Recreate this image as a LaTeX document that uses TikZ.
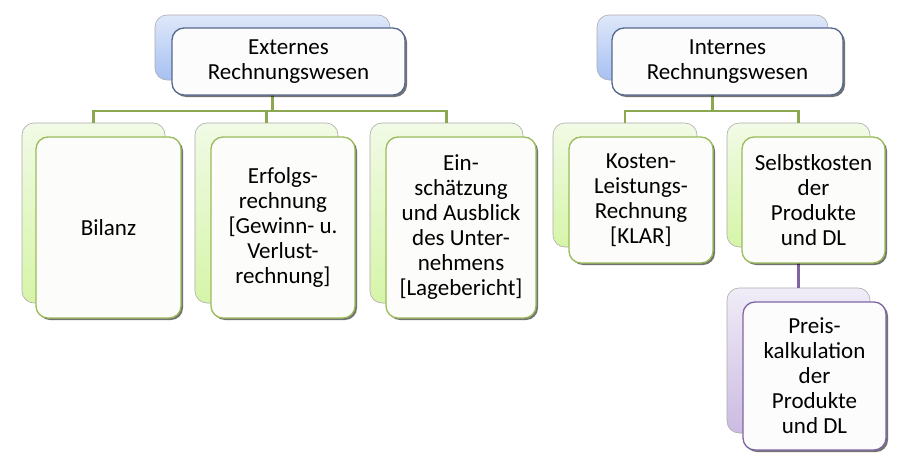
\documentclass[tikz,border=0pt]{standalone}
\usepackage{fontspec}
\setmainfont{Carlito}
\usetikzlibrary{shadows,calc}
\definecolor{gTop}{HTML}{F1FAE6}
\definecolor{gBot}{HTML}{D6F5A8}
\definecolor{bTop}{HTML}{DFE8FA}
\definecolor{bBot}{HTML}{A6C0F2}
\definecolor{pTop}{HTML}{F0ECF7}
\definecolor{pBot}{HTML}{CBBBE2}
\definecolor{gLine}{HTML}{9BBB59}
\definecolor{gDark}{HTML}{4F6228}
\definecolor{bBorder}{HTML}{55698C}
\definecolor{pLine}{HTML}{8064A2}
\begin{document}
\begin{tikzpicture}[x=1pt,y=-1pt,
  box/.style={rectangle, rounded corners=12pt, inner sep=0pt},
  backG/.style={box, draw=gray!65, line width=0.6pt, top color=gTop, bottom color=gBot},
  backB/.style={box, draw=gray!65, line width=0.6pt, top color=bTop, bottom color=bBot},
  backP/.style={box, draw=gray!65, line width=0.6pt, top color=pTop, bottom color=pBot},
  front/.style={box, line width=1.3pt, align=center, font=\fontsize{23}{25}\selectfont,
     drop shadow={shadow xshift=2pt, shadow yshift=-2pt, fill=black, opacity=0.55}},
  frontG/.style={front, draw=gLine, fill=white!97!gLine},
  frontB/.style={front, draw=bBorder, fill=white!98!bBorder},
  frontP/.style={front, draw=pLine, fill=white!98!pLine},
  connshadow/.style={draw=gDark, line width=2.6pt, xshift=-0.7pt, yshift=0.7pt},
  conn/.style={draw=gLine!90!black, line width=2.2pt},
  pconn/.style={draw=pLine, line width=2.4pt}
]
\fill[white] (0,0) rectangle (904,463);
\useasboundingbox (0,0) rectangle (904,463);

% back boxes
\node[backB, minimum width=235pt, minimum height=65pt] (extb) at (272.5,47.5) {};
\node[backB, minimum width=231pt, minimum height=65pt] (intb) at (712.5,47.5) {};
\node[backG, minimum width=143pt, minimum height=180pt] (b1b) at (93.5,213) {};
\node[backG, minimum width=143pt, minimum height=180pt] (b2b) at (266.5,213) {};
\node[backG, minimum width=153pt, minimum height=180pt] (b3b) at (446.5,213) {};
\node[backG, minimum width=144pt, minimum height=124pt] (k1b) at (625,185) {};
\node[backG, minimum width=143pt, minimum height=124pt] (k2b) at (798.5,185) {};
\node[backP, minimum width=143pt, minimum height=145pt] (pb) at (798.5,360.5) {};

% connectors
\coordinate (busE) at (0,111);
\coordinate (busI) at (0,111);
\foreach \st in {connshadow,conn}{
  \draw[\st] (extb.south) -- (extb.south |- busE);
  \draw[\st] (b1b.north) |- (b3b.north |- busE) -- (b3b.north);
  \draw[\st] (b2b.north |- busE) -- (b2b.north);
  \draw[\st] (intb.south) -- (intb.south |- busI);
  \draw[\st] (k1b.north) |- (k2b.north |- busI) -- (k2b.north);
}
\draw[pconn] (k2b.south) -- (pb.north);

% front boxes
\node[frontB, minimum width=233pt, minimum height=67pt] (extf) at (288.5,61.5) {Externes\\Rechnungswesen};
\node[frontB, minimum width=231pt, minimum height=67pt] (intf) at (727.5,61.5) {Internes\\Rechnungswesen};
\node[frontG, minimum width=145pt, minimum height=181pt] (b1f) at (108.5,227.5) {Bilanz};
\node[frontG, minimum width=144pt, minimum height=181pt] (b2f) at (283,227.5) {Erfolgs-\\rechnung\\{[}Gewinn- u.\\Verlust-\\rechnung{]}};
\node[frontG, minimum width=150pt, minimum height=181pt] (b3f) at (461,227.5) {Ein-\\schätzung\\und Ausblick\\des Unter-\\nehmens\\{[}Lagebericht{]}};
\node[frontG, minimum width=144pt, minimum height=126pt] (k1f) at (641,200) {Kosten-\\Leistungs-\\Rechnung\\{[}KLAR{]}};
\node[frontG, minimum width=143pt, minimum height=126pt] (k2f) at (813.5,200) {Selbstkosten\\der\\Produkte\\und DL};
\node[frontP, minimum width=143pt, minimum height=148pt] (pf) at (814.5,376) {Preis-\\kalkulation\\der\\Produkte\\und DL};
\end{tikzpicture}
\end{document}
